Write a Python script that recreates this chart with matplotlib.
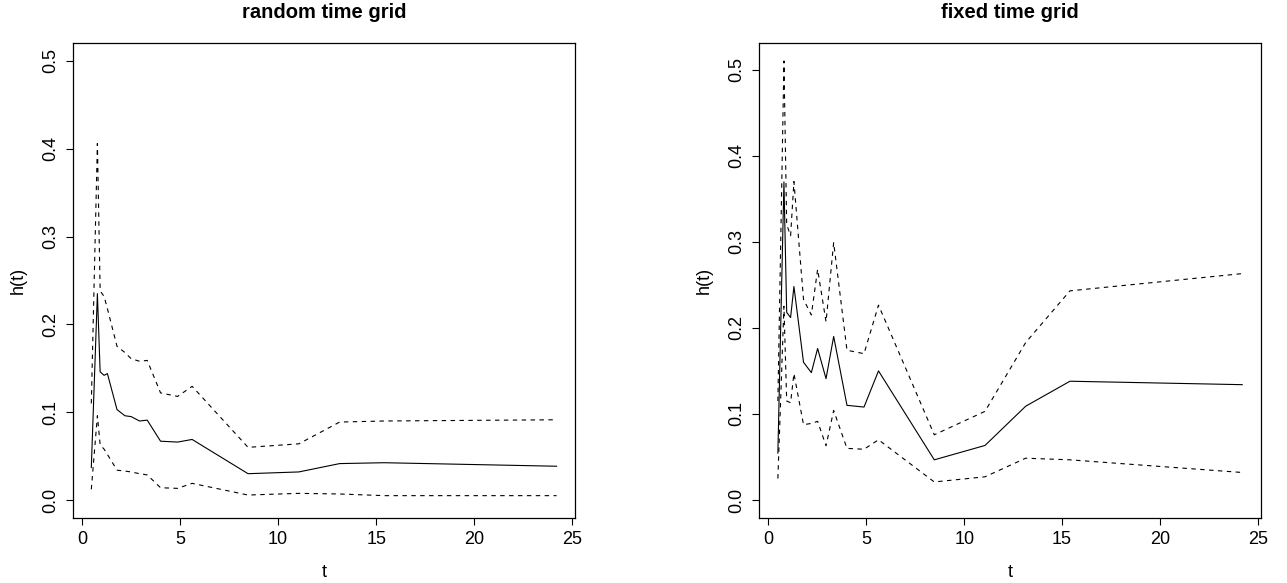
import matplotlib
matplotlib.use("Agg")
import matplotlib.pyplot as plt
import numpy as np

plt.rcParams['font.family'] = ['Liberation Sans', 'DejaVu Sans']

# Data
t = [0.48, 0.79, 0.93, 1.13, 1.30, 1.79, 2.19, 2.51, 2.94, 3.33, 4.01, 4.88,
     5.62, 8.47, 11.06, 13.14, 15.40, 24.20]

h_rand = [0.037, 0.235, 0.146, 0.142, 0.144, 0.103, 0.096, 0.095, 0.090, 0.091,
          0.067, 0.066, 0.069, 0.030, 0.032, 0.0415, 0.0425, 0.0385]
upper_rand = [0.11, 0.406, 0.238, 0.232, 0.218, 0.175, 0.168, 0.161, 0.158, 0.159,
              0.122, 0.118, 0.1295, 0.060, 0.064, 0.0888, 0.090, 0.0914]
lower_rand = [0.0122, 0.096, 0.063, 0.058, 0.052, 0.034, 0.033, 0.032, 0.030, 0.0286,
              0.014, 0.0133, 0.019, 0.0057, 0.0076, 0.0069, 0.005, 0.005]

h_fix = [0.0545, 0.3695, 0.218, 0.212, 0.248, 0.160, 0.148, 0.176, 0.141, 0.190,
         0.110, 0.108, 0.150, 0.0467, 0.0634, 0.109, 0.138, 0.134]
upper_fix = [0.115, 0.510, 0.32, 0.307, 0.370, 0.233, 0.215, 0.268, 0.207, 0.299,
             0.174, 0.170, 0.2264, 0.0758, 0.103, 0.183, 0.243, 0.263]
lower_fix = [0.025, 0.225, 0.115, 0.113, 0.147, 0.0875, 0.089, 0.0914, 0.063, 0.104,
             0.060, 0.059, 0.070, 0.021, 0.027, 0.0486, 0.0467, 0.032]

titles = ["random time grid", "fixed time grid"]
xticks = [0, 5, 10, 15, 20, 25]
yticks = [0.0, 0.1, 0.2, 0.3, 0.4, 0.5]
ytick_labels = ["0.0", "0.1", "0.2", "0.3", "0.4", "0.5"]

W, H = 1287, 583
fig = plt.figure(figsize=(W / 100, H / 100), dpi=100)

def rect(l, r, top, bot):
    return [l / W, 1 - bot / H, (r - l) / W, (bot - top) / H]

axes = [fig.add_axes(rect(72.7, 575.2, 43.4, 517.6)),
        fig.add_axes(rect(759.3, 1260.8, 43.4, 517.6))]

series = [(h_rand, upper_rand, lower_rand, 0.5),
          (h_fix, upper_fix, lower_fix, max(upper_fix))]

for ax, title, (h, up, lo, ymax) in zip(axes, titles, series):
    ax.plot(t, h, color='black', lw=0.8, solid_joinstyle='round')
    ax.plot(t, up, color='black', lw=0.8, linestyle=(0, (4, 4)))
    ax.plot(t, lo, color='black', lw=0.8, linestyle=(0, (4, 4)))
    xr = max(t) - min(t)
    ax.set_xlim(min(t) - 0.04 * xr, max(t) + 0.04 * xr)
    ax.set_ylim(-0.04 * ymax, ymax * 1.04)
    ax.set_xticks(xticks)
    ax.set_xticklabels([str(v) for v in xticks])
    ax.set_yticks(yticks)
    ax.set_yticklabels(ytick_labels, rotation=90, va='center')
    ax.tick_params(direction='out', length=5, width=0.8, labelsize=13, pad=5)
    for s in ax.spines.values():
        s.set_linewidth(0.9)
        s.set_color('black')
    ax.set_title(title, fontsize=14.5, fontweight='bold', pad=18)
    ax.set_xlabel('t', fontsize=13, labelpad=11)
    ax.set_ylabel('h(t)', fontsize=13, labelpad=11)

fig.savefig('out.png', dpi=100)
